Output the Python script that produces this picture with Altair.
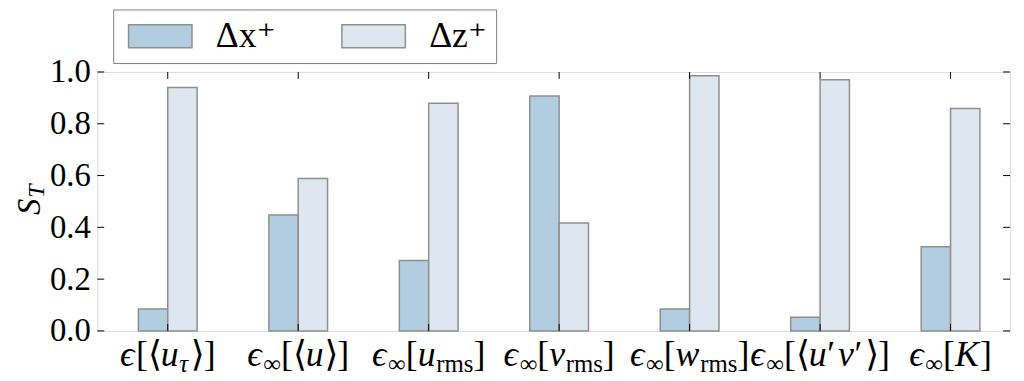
import altair as alt
import pandas as pd

# ---- data ----
categories = ["eps_utau", "einf_u", "einf_urms", "einf_vrms", "einf_wrms", "einf_uv", "einf_K"]
series = ["Δx⁺", "Δz⁺"]
dx_values = [0.085, 0.448, 0.272, 0.907, 0.085, 0.053, 0.325]
dz_values = [0.940, 0.589, 0.879, 0.417, 0.985, 0.970, 0.859]
y_ticks = [0.0, 0.2, 0.4, 0.6, 0.8, 1.0]
# tick label pieces: (text, kind) kind: m=roman, i=italic, s=roman subscript, si=italic subscript
label_segments = [
    [("ϵ", "i"), ("[", "m"), ("⟨", "m"), ("u", "i"), ("τ", "si"), ("⟩", "m"), ("]", "m")],
    [("ϵ", "i"), ("∞", "s"), ("[", "m"), ("⟨", "m"), ("u", "i"), ("⟩", "m"), ("]", "m")],
    [("ϵ", "i"), ("∞", "s"), ("[", "m"), ("u", "i"), ("rms", "s"), ("]", "m")],
    [("ϵ", "i"), ("∞", "s"), ("[", "m"), ("v", "i"), ("rms", "s"), ("]", "m")],
    [("ϵ", "i"), ("∞", "s"), ("[", "m"), ("w", "i"), ("rms", "s"), ("]", "m")],
    [("ϵ", "i"), ("∞", "s"), ("[", "m"), ("⟨", "m"), ("u", "i"), ("′", "m"), ("v", "i"), ("′", "m"), ("⟩", "m"), ("]", "m")],
    [("ϵ", "i"), ("∞", "s"), ("[", "m"), ("K", "i"), ("]", "m")],
]

# ---- styling ----
FONT = "'Liberation Serif', 'DejaVu Serif', serif"
C_X = "#b3cde0"
C_Z = "#dee6ef"
EDGE = "#8f8f8f"
W, H = 920, 261
X_DOMAIN = [-0.54, 6.456]
PPU = W / (X_DOMAIN[1] - X_DOMAIN[0])
BAR_W = 0.225
MAIN_FS, SUB_FS = 36, 25

em_width = {
    "[": 0.333, "]": 0.333, "⟨": 0.36, "⟩": 0.36, "′": 0.30, "∞": 0.713,
    "r": 0.333, "m": 0.778, "s": 0.389,
    "ϵ": 0.45, "u": 0.52, "v": 0.46, "w": 0.69, "K": 0.70, "τ": 0.46,
}

def seg_width(text, kind):
    fs = SUB_FS if kind in ("s", "si") else MAIN_FS
    return sum(em_width.get(ch, 0.5) for ch in text) * fs

bars = pd.DataFrame(
    [{"idx": i, "cat": c, "series": series[0], "value": v} for i, (c, v) in enumerate(zip(categories, dx_values))]
    + [{"idx": i, "cat": c, "series": series[1], "value": v} for i, (c, v) in enumerate(zip(categories, dz_values))]
)

seg_rows = []
for i, segs in enumerate(label_segments):
    total = sum(seg_width(t, k) for t, k in segs)
    off = -total / 2
    for t, k in segs:
        seg_rows.append({"idx": i, "t": t, "kind": k, "off": off})
        off += seg_width(t, k)
segs_df = pd.DataFrame(seg_rows)

xs = alt.Scale(domain=X_DOMAIN, nice=False, zero=False)
ys = alt.Scale(domain=[0, 1], nice=False, zero=False)

# legend swatch: 64 x 23 px rectangle drawn with a custom path (scaled by sqrt(size)/2)
SW_SIZE = 23 * 23
path = "M-2.78,-1L2.78,-1L2.78,1L-2.78,1Z"

bar_layer = alt.Chart(bars).transform_calculate(
    x0=f"datum.idx + (datum.series == '{series[0]}' ? -{BAR_W} : 0)",
    x1=f"datum.idx + (datum.series == '{series[0]}' ? 0 : {BAR_W})",
).mark_bar(stroke=EDGE, strokeWidth=1.5, opacity=1).encode(
    x=alt.X("x0:Q", scale=xs, axis=None),
    x2="x1:Q",
    y=alt.Y("value:Q", scale=ys, axis=alt.Axis(
        values=y_ticks, format=".1f", labelFont=FONT, labelFontSize=33, labelColor="black",
        ticks=False, domain=False, grid=False, labelPadding=7, title=None, labelFlush=False,
    )),
    y2=alt.datum(0),
    color=alt.Color("series:N", scale=alt.Scale(domain=series, range=[C_X, C_Z]), legend=alt.Legend(
        orient="none", legendX=16, legendY=-63, direction="horizontal", title=None,
        symbolType=path, symbolSize=SW_SIZE, symbolOffset=20.5, symbolStrokeColor=EDGE,
        symbolStrokeWidth=1.5, symbolOpacity=1, labelFont=FONT, labelFontSize=36,
        labelColor="black", labelOffset=38, columnPadding=60, padding=9,
        strokeColor="#808080", fillColor="white",
    )),
)

ytick_df = pd.DataFrame({"v": y_ticks})
xtick_df = pd.DataFrame({"idx": list(range(len(categories)))})

left_ticks = alt.Chart(ytick_df).mark_rule(color="black", strokeWidth=1).encode(
    y=alt.Y("v:Q", scale=ys), x=alt.value(0), x2=alt.value(7))
right_ticks = alt.Chart(ytick_df).mark_rule(color="black", strokeWidth=1).encode(
    y=alt.Y("v:Q", scale=ys), x=alt.value(W - 7), x2=alt.value(W))
top_ticks = alt.Chart(xtick_df).mark_rule(color="black", strokeWidth=1).encode(
    x=alt.X("idx:Q", scale=xs), y=alt.value(0), y2=alt.value(7))
bot_ticks = alt.Chart(xtick_df).mark_rule(color="black", strokeWidth=1).encode(
    x=alt.X("idx:Q", scale=xs), y=alt.value(H - 7), y2=alt.value(H))

def label_layer(kind, fs, style, ybase):
    return alt.Chart(segs_df).transform_filter(f"datum.kind == '{kind}'").transform_calculate(
        tx=f"datum.idx + datum.off / {PPU}"
    ).mark_text(align="left", baseline="alphabetic", font=FONT, fontSize=fs, fontStyle=style, color="black").encode(
        x=alt.X("tx:Q", scale=xs), y=alt.value(ybase), text="t:N")

labels = [
    label_layer("m", MAIN_FS, "normal", H + 35),
    label_layer("i", MAIN_FS, "italic", H + 35),
    label_layer("s", SUB_FS, "normal", H + 41),
    label_layer("si", SUB_FS, "italic", H + 41),
]

ytitle_s = alt.Chart(xtick_df.head(1)).mark_text(
    angle=270, align="center", baseline="alphabetic", font=FONT, fontSize=33, fontStyle="italic", color="black"
).encode(x=alt.value(-58), y=alt.value(136), text=alt.value("S"))
ytitle_t = alt.Chart(xtick_df.head(1)).mark_text(
    angle=270, align="center", baseline="alphabetic", font=FONT, fontSize=24, fontStyle="italic", color="black"
).encode(x=alt.value(-54), y=alt.value(120), text=alt.value("T"))

chart = alt.layer(
    bar_layer, left_ticks, right_ticks, top_ticks, bot_ticks, *labels, ytitle_s, ytitle_t
).properties(
    width=W, height=H,
    autosize=alt.AutoSizeParams(type="none"),
    padding={"left": 90, "top": 63, "right": 6, "bottom": 49},
).configure_view(stroke="black", strokeWidth=1.5).configure(background="white")

chart.save("out.html", embed_options={"renderer": "svg", "actions": False})
